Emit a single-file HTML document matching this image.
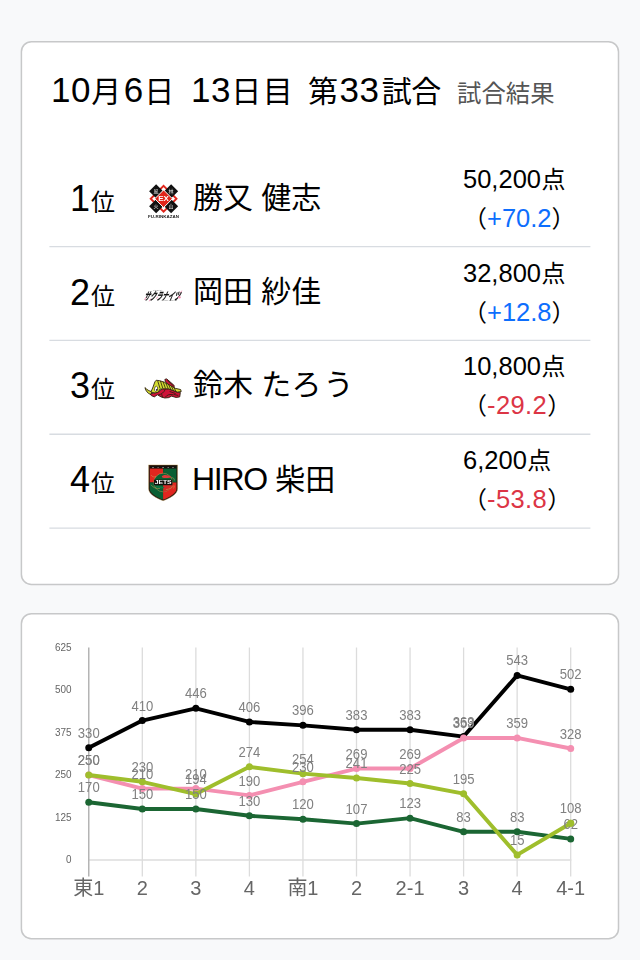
<!DOCTYPE html>
<html lang="ja">
<head>
<meta charset="utf-8">
<title>試合結果</title>
<style>
html,body{margin:0;padding:0}
body{width:640px;height:960px;position:relative;overflow:hidden;background:#f8f9fa;
 font-family:"Liberation Sans","Noto Sans CJK JP",sans-serif;color:#000}
.abs{position:absolute;white-space:nowrap}
svg.lg{will-change:transform}
#bg{position:absolute;left:0;top:0}
.t{top:66px;font-size:30px;line-height:48px}
.t .d{font-size:35px;letter-spacing:.6px}
.ts{top:70px;font-size:24.4px;line-height:48px;color:#555}
.row{position:absolute;left:50px;width:540px;height:94px}
.rank{left:20px;top:22px;font-size:36px;line-height:48px}
.rank b{font-weight:400;font-size:24px;margin-left:1px}
.name{left:143px;top:21px;font-size:30px;line-height:48px}
.pt{left:413px;font-size:24px;line-height:36px}
.pt1{top:8px}
.pt2{top:47px}
.pt .d{font-size:25.5px}
.pt1 i{font-style:normal;margin-left:.5px}
.plus{color:#0d6efd}
.minus{color:#dc3545;letter-spacing:.4px}
</style>
</head>
<body>
<svg id="bg" width="640" height="960" viewBox="0 0 640 960">
 <rect x="21.4" y="41.7" width="597.1" height="542.7" rx="10" fill="#fff" stroke="#c7c8c9" stroke-width="1.5"/>
 <rect x="21.4" y="613.7" width="597.1" height="325" rx="10" fill="#fff" stroke="#c7c8c9" stroke-width="1.5"/>
 <path d="M49.4 246.6H590.4M49.4 340.4H590.4M49.4 434.3H590.4M49.4 528.1H590.4" stroke="#d8dce1" stroke-width="1.4" fill="none"/>
</svg>

<div class="abs t" style="left:51px"><span class="d">10</span>月<span class="d" style="margin-left:2.5px">6</span><span style="margin-left:.5px">日</span></div>
<div class="abs t" style="left:191px"><span class="d">13</span>日<span style="margin-left:1.5px">目</span></div>
<div class="abs t" style="left:308px">第<span class="d" style="margin-left:1.5px">33</span><span style="margin-left:2px;letter-spacing:-.5px">試合</span></div>
<div class="abs ts" style="left:457px">試合結果</div>

<div class="row" style="top:152.6px">
 <div class="abs rank">1<b>位</b></div>
 <div class="abs name">勝又 健志</div>
 <div class="abs pt pt1"><span class="d">50,200</span><i>点</i></div>
 <div class="abs pt pt2">（<span class="d plus">+70.2</span>）</div>
</div>
<div class="row" style="top:246.5px">
 <div class="abs rank">2<b>位</b></div>
 <div class="abs name">岡田 紗佳</div>
 <div class="abs pt pt1"><span class="d">32,800</span><i>点</i></div>
 <div class="abs pt pt2">（<span class="d plus">+12.8</span>）</div>
</div>
<div class="row" style="top:340.4px">
 <div class="abs rank">3<b>位</b></div>
 <div class="abs name">鈴木 <span style="letter-spacing:2px">たろう</span></div>
 <div class="abs pt pt1"><span class="d">10,800</span><i>点</i></div>
 <div class="abs pt pt2">（<span class="d minus">-29.2</span>）</div>
</div>
<div class="row" style="top:434.2px">
 <div class="abs rank">4<b>位</b></div>
 <div class="abs name"><span style="font-size:32px;letter-spacing:-1.3px;margin-left:-1px">HIRO</span> 柴田</div>
 <div class="abs pt pt1"><span class="d">6,200</span><i>点</i></div>
 <div class="abs pt pt2">（<span class="d minus">-53.8</span>）</div>
</div>
<!--LOGOS-->
<svg class="abs lg" style="left:140px;top:180px" width="48" height="44" viewBox="140 180 48 44" font-family="'Liberation Sans','Noto Sans CJK JP',sans-serif">
 <g transform="translate(163.6 198.75)">
  <path d="M0-12.9 12.9 0 0 12.9-12.9 0Z" fill="#fff" stroke="#e1251b" stroke-width="1.9"/>
  <g fill="#111">
   <path d="M-7.5-14.6-.5-7.6-7.5-.6-14.5-7.6Z"/>
   <path d="M7.5-14.6 14.5-7.6 7.5-.6.5-7.6Z"/>
   <path d="M-7.5.6-.5 7.6-7.5 14.6-14.5 7.6Z"/>
   <path d="M7.5.6 14.5 7.6 7.5 14.6.5 7.6Z"/>
  </g>
  <path d="M0-8.8 8.8 0 0 8.8-8.8 0Z" fill="#e1251b" stroke="#fff" stroke-width="1"/>
  <g fill="#fff" font-size="5" text-anchor="middle" opacity=".9">
   <text x="-7.5" y="-5.6">風</text><text x="7.5" y="-5.6">林</text>
   <text x="-7.5" y="9.6">火</text><text x="7.5" y="9.6">山</text>
  </g>
  <text x="0" y="2.3" fill="#fff" font-size="6.4" font-weight="700" text-anchor="middle" textLength="10.6" lengthAdjust="spacingAndGlyphs">EX</text>
  <text x="0" y="19.1" fill="#222" font-size="4.2" font-weight="700" text-anchor="middle" textLength="31" lengthAdjust="spacingAndGlyphs">FU-RINKAZAN</text>
 </g>
</svg>
<svg class="abs lg" style="left:140px;top:280px" width="48" height="30" viewBox="140 280 48 30" font-family="'Liberation Sans','Noto Sans CJK JP',sans-serif">
 <g stroke="#f3a0bd" stroke-width="1" stroke-linecap="round">
  <path d="M146 297.4 144.6 299.6"/><path d="M150.6 299 149.4 301"/><path d="M157.6 296.8 156.6 298.4"/><path d="M181.6 291 180.4 293"/>
 </g>
 <text transform="translate(143.6 300.2) skewX(-22)" font-size="10.6" font-weight="700" fill="#111" stroke="#111" stroke-width=".3" textLength="35.5" lengthAdjust="spacingAndGlyphs">サクラナイツ</text>
 <text x="153.2" y="290.6" font-size="1.9" fill="#555" textLength="9" lengthAdjust="spacingAndGlyphs">KADOKAWA</text>
 <text x="161.4" y="300.9" font-size="2.3" fill="#777" textLength="15.5" lengthAdjust="spacingAndGlyphs">SAKURA KNIGHTS</text>
 <circle cx="179.4" cy="297.3" r="1.3" fill="#f08db0"/>
</svg>
<svg class="abs lg" style="left:140px;top:372px" width="48" height="32" viewBox="0 0 640 427">
 <g stroke="#2e200e" stroke-width="12" stroke-linejoin="round">
  <path d="M66 208C72 250 104 288 150 304L156 262C122 254 94 238 66 208Z" fill="#d3de30"/>
  <path d="M138 294 182 282 240 264 300 226 380 226 440 248 500 270 538 272 530 332 482 340 420 322 382 342 330 347 280 332 232 304 190 332 150 314Z" fill="#cf1238"/>
  <path d="M332 98 356 92 452 176 458 208 420 198 380 168 338 130Z" fill="#cf1238"/>
  <path d="M148 262 174 200 198 132 216 110 262 116 330 138 400 178 470 218 542 234 550 260 500 268 440 246 380 224 300 224 262 232 246 268 200 280 152 270Z" fill="#d3de30"/>
 </g>
 <g stroke="#2e200e" stroke-width="11" fill="none" stroke-linecap="round">
  <path d="M238 126 266 215"/><path d="M274 124 302 212"/><path d="M310 136 338 214"/><path d="M346 152 374 216"/><path d="M384 174 410 230"/><path d="M420 194 444 242"/><path d="M458 216 476 254"/>
  <path d="M368 112 436 176"/>
  <path d="M246 306C290 296 322 270 334 238"/><path d="M338 334C360 302 400 292 442 304"/><path d="M455 300 505 312"/><path d="M290 300 300 336"/><path d="M400 262 470 286"/>
 </g>
 <ellipse cx="214" cy="224" rx="20" ry="34" fill="#fff" stroke="#2e200e" stroke-width="8" transform="rotate(12 214 224)"/>
 <circle cx="224" cy="238" r="11" fill="#111"/>
</svg>
<svg class="abs lg" style="left:140px;top:460px" width="48" height="46" viewBox="0 0 640 613" font-family="'Liberation Sans','Noto Sans CJK JP',sans-serif">
 <defs><clipPath id="sh"><path d="M127 76H489V384C489 438 398 497 308 529C218 497 127 438 127 384Z"/></clipPath></defs>
 <path d="M115 65H501V386C501 449 404 509 308 543C212 509 115 449 115 386Z" fill="#24170e" stroke="#c9a45a" stroke-width="5"/>
 <g clip-path="url(#sh)">
  <rect x="124" y="74" width="184" height="226" fill="#e0261f"/>
  <rect x="308" y="74" width="184" height="226" fill="#0a5f33"/>
  <rect x="124" y="300" width="184" height="240" fill="#0a5f33"/>
  <rect x="308" y="300" width="184" height="240" fill="#e0261f"/>
  <circle cx="308" cy="300" r="124" fill="#0a5f33" stroke="#c9a45a" stroke-width="6"/>
  <path d="M308 300H432A124 124 0 0 1 308 424Z" fill="#d42a25"/>
  <path d="M290 215C320 190 380 195 420 225 400 240 340 245 300 235Z" fill="#d63a3a"/>
  <path d="M200 350C240 380 300 385 330 370 300 350 240 340 200 350Z" fill="#0f7a44"/>
  <g fill="none" stroke="#c9a45a" stroke-width="7" stroke-linecap="round">
   <path d="M150 205C165 225 190 232 212 222"/><path d="M418 236C440 232 462 245 458 268"/>
   <path d="M150 335C170 365 215 385 262 380"/><path d="M350 395C390 390 430 370 452 340 462 352 458 370 446 378"/>
  </g>
  <rect x="124" y="74" width="368" height="40" fill="#14100c"/>
  <text x="308" y="105" fill="#fff" font-size="26" font-weight="700" text-anchor="middle" textLength="280" lengthAdjust="spacing">EARTH</text>
  <rect x="186" y="262" width="246" height="74" fill="#14100c"/>
  <text x="309" y="326" fill="#fff" font-size="70" font-weight="700" text-anchor="middle" textLength="226" lengthAdjust="spacingAndGlyphs">JETS</text>
 </g>
</svg>
<!--/LOGOS-->
<!--CHART-->
<svg id="chart" class="abs lg" style="left:0;top:600px" width="640" height="360" viewBox="0 600 640 360" font-family="'Liberation Sans','Noto Sans CJK JP',sans-serif">
<g stroke="#dcdcdc" stroke-width="1.3" fill="none">
<path d="M142.30 647.5V876.5"/>
<path d="M195.85 647.5V876.5"/>
<path d="M249.40 647.5V876.5"/>
<path d="M302.95 647.5V876.5"/>
<path d="M356.50 647.5V876.5"/>
<path d="M410.05 647.5V876.5"/>
<path d="M463.60 647.5V876.5"/>
<path d="M517.15 647.5V876.5"/>
<path d="M570.70 647.5V876.5"/>
<path d="M88.15 860H571.30"/>
</g>
<path d="M88.75 647.5V876.5" stroke="#b4b4b4" stroke-width="1.5" fill="none"/>
<g font-size="10.5" fill="#666" text-anchor="end">
<text x="71.5" y="863.40" textLength="5.5" lengthAdjust="spacingAndGlyphs">0</text>
<text x="71.5" y="820.90" textLength="16.6" lengthAdjust="spacingAndGlyphs">125</text>
<text x="71.5" y="778.40" textLength="16.6" lengthAdjust="spacingAndGlyphs">250</text>
<text x="71.5" y="735.90" textLength="16.6" lengthAdjust="spacingAndGlyphs">375</text>
<text x="71.5" y="693.40" textLength="16.6" lengthAdjust="spacingAndGlyphs">500</text>
<text x="71.5" y="650.90" textLength="16.6" lengthAdjust="spacingAndGlyphs">625</text>
</g>
<g font-size="20" fill="#666" text-anchor="middle">
<text x="88.75" y="895">東1</text>
<text x="142.30" y="895">2</text>
<text x="195.85" y="895">3</text>
<text x="249.40" y="895">4</text>
<text x="302.95" y="895">南1</text>
<text x="356.50" y="895">2</text>
<text x="410.05" y="895">2-1</text>
<text x="463.60" y="895">3</text>
<text x="517.15" y="895">4</text>
<text x="570.70" y="895">4-1</text>
</g>
<polyline points="88.75,747.80 142.30,720.60 195.85,708.36 249.40,721.96 302.95,725.36 356.50,729.78 410.05,729.78 463.60,736.58 517.15,675.38 570.70,689.32" fill="none" stroke="#000000" stroke-width="3.9" stroke-linejoin="round" stroke-linecap="round"/>
<g fill="#000000"><circle cx="88.75" cy="747.80" r="3.5"/><circle cx="142.30" cy="720.60" r="3.5"/><circle cx="195.85" cy="708.36" r="3.5"/><circle cx="249.40" cy="721.96" r="3.5"/><circle cx="302.95" cy="725.36" r="3.5"/><circle cx="356.50" cy="729.78" r="3.5"/><circle cx="410.05" cy="729.78" r="3.5"/><circle cx="463.60" cy="736.58" r="3.5"/><circle cx="517.15" cy="675.38" r="3.5"/><circle cx="570.70" cy="689.32" r="3.5"/></g>
<polyline points="88.75,775.00 142.30,788.60 195.85,788.60 249.40,795.40 302.95,781.80 356.50,768.54 410.05,768.54 463.60,737.94 517.15,737.94 570.70,748.48" fill="none" stroke="#f48fb1" stroke-width="3.9" stroke-linejoin="round" stroke-linecap="round"/>
<g fill="#f48fb1"><circle cx="88.75" cy="775.00" r="3.5"/><circle cx="142.30" cy="788.60" r="3.5"/><circle cx="195.85" cy="788.60" r="3.5"/><circle cx="249.40" cy="795.40" r="3.5"/><circle cx="302.95" cy="781.80" r="3.5"/><circle cx="356.50" cy="768.54" r="3.5"/><circle cx="410.05" cy="768.54" r="3.5"/><circle cx="463.60" cy="737.94" r="3.5"/><circle cx="517.15" cy="737.94" r="3.5"/><circle cx="570.70" cy="748.48" r="3.5"/></g>
<polyline points="88.75,802.20 142.30,809.00 195.85,809.00 249.40,815.80 302.95,819.20 356.50,823.62 410.05,818.18 463.60,831.78 517.15,831.78 570.70,838.92" fill="none" stroke="#1b6633" stroke-width="3.9" stroke-linejoin="round" stroke-linecap="round"/>
<g fill="#1b6633"><circle cx="88.75" cy="802.20" r="3.5"/><circle cx="142.30" cy="809.00" r="3.5"/><circle cx="195.85" cy="809.00" r="3.5"/><circle cx="249.40" cy="815.80" r="3.5"/><circle cx="302.95" cy="819.20" r="3.5"/><circle cx="356.50" cy="823.62" r="3.5"/><circle cx="410.05" cy="818.18" r="3.5"/><circle cx="463.60" cy="831.78" r="3.5"/><circle cx="517.15" cy="831.78" r="3.5"/><circle cx="570.70" cy="838.92" r="3.5"/></g>
<polyline points="88.75,775.00 142.30,781.80 195.85,794.04 249.40,766.84 302.95,773.64 356.50,778.06 410.05,783.50 463.60,793.70 517.15,854.90 570.70,823.28" fill="none" stroke="#9fbe2c" stroke-width="3.9" stroke-linejoin="round" stroke-linecap="round"/>
<g fill="#9fbe2c"><circle cx="88.75" cy="775.00" r="3.5"/><circle cx="142.30" cy="781.80" r="3.5"/><circle cx="195.85" cy="794.04" r="3.5"/><circle cx="249.40" cy="766.84" r="3.5"/><circle cx="302.95" cy="773.64" r="3.5"/><circle cx="356.50" cy="778.06" r="3.5"/><circle cx="410.05" cy="783.50" r="3.5"/><circle cx="463.60" cy="793.70" r="3.5"/><circle cx="517.15" cy="854.90" r="3.5"/><circle cx="570.70" cy="823.28" r="3.5"/></g>
<g font-size="15.4" fill="#808080" text-anchor="middle">
<text transform="translate(88.75 737.90) scale(.85 1)">330</text><text transform="translate(142.30 710.70) scale(.85 1)">410</text><text transform="translate(195.85 698.46) scale(.85 1)">446</text><text transform="translate(249.40 712.06) scale(.85 1)">406</text><text transform="translate(302.95 715.46) scale(.85 1)">396</text><text transform="translate(356.50 719.88) scale(.85 1)">383</text><text transform="translate(410.05 719.88) scale(.85 1)">383</text><text transform="translate(463.60 726.68) scale(.85 1)">363</text><text transform="translate(517.15 665.48) scale(.85 1)">543</text><text transform="translate(570.70 679.42) scale(.85 1)">502</text>
<text transform="translate(88.75 765.10) scale(.85 1)">250</text><text transform="translate(142.30 778.70) scale(.85 1)">210</text><text transform="translate(195.85 778.70) scale(.85 1)">210</text><text transform="translate(249.40 785.50) scale(.85 1)">190</text><text transform="translate(302.95 771.90) scale(.85 1)">230</text><text transform="translate(356.50 758.64) scale(.85 1)">269</text><text transform="translate(410.05 758.64) scale(.85 1)">269</text><text transform="translate(463.60 728.04) scale(.85 1)">359</text><text transform="translate(517.15 728.04) scale(.85 1)">359</text><text transform="translate(570.70 738.58) scale(.85 1)">328</text>
<text transform="translate(88.75 792.30) scale(.85 1)">170</text><text transform="translate(142.30 799.10) scale(.85 1)">150</text><text transform="translate(195.85 799.10) scale(.85 1)">150</text><text transform="translate(249.40 805.90) scale(.85 1)">130</text><text transform="translate(302.95 809.30) scale(.85 1)">120</text><text transform="translate(356.50 813.72) scale(.85 1)">107</text><text transform="translate(410.05 808.28) scale(.85 1)">123</text><text transform="translate(463.60 821.88) scale(.85 1)">83</text><text transform="translate(517.15 821.88) scale(.85 1)">83</text><text transform="translate(570.70 829.02) scale(.85 1)">62</text>
<text transform="translate(88.75 765.10) scale(.85 1)">250</text><text transform="translate(142.30 771.90) scale(.85 1)">230</text><text transform="translate(195.85 784.14) scale(.85 1)">194</text><text transform="translate(249.40 756.94) scale(.85 1)">274</text><text transform="translate(302.95 763.74) scale(.85 1)">254</text><text transform="translate(356.50 768.16) scale(.85 1)">241</text><text transform="translate(410.05 773.60) scale(.85 1)">225</text><text transform="translate(463.60 783.80) scale(.85 1)">195</text><text transform="translate(517.15 845.00) scale(.85 1)">15</text><text transform="translate(570.70 813.38) scale(.85 1)">108</text>
</g>
<circle cx="570.70" cy="823.28" r="3.5" fill="#9fbe2c"/>
</svg>
<!--/CHART-->
</body>
</html>
